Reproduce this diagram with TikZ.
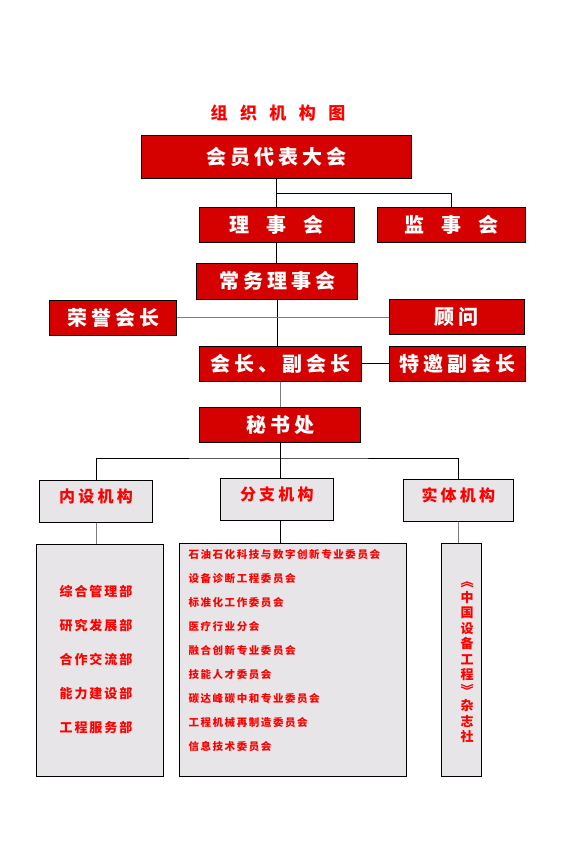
\documentclass[tikz,border=0pt]{standalone}
\usepackage{fontspec}
\usepackage{tikz}
\usetikzlibrary{positioning}
\newfontfamily\cjkwide[LetterSpace=20]{Noto Sans CJK SC}
\newfontfamily\cjktight[LetterSpace=15]{Noto Sans CJK SC}
\newfontfamily\cjktitle[LetterSpace=73]{Noto Sans CJK SC}
\newfontfamily\cjk{Noto Sans CJK SC}
\definecolor{boxred}{RGB}{213,0,0}
\definecolor{boxgray}{RGB}{231,229,231}
\definecolor{txtred}{RGB}{255,0,0}
\definecolor{linegray}{RGB}{125,125,125}
\def\gap{\hspace{17pt}}

\begin{document}
\begin{tikzpicture}[
    x=1pt, y=-1pt,
    redbox/.style={draw=black, fill=boxred, text=white, line width=0.9pt, inner sep=0pt,
        font=\cjkwide\bfseries\fontsize{20}{20}\selectfont},
    graybox/.style={draw=black, fill=boxgray, text=txtred, line width=0.9pt, inner sep=0pt,
        text height=11pt, text depth=9pt,
        font=\cjkwide\bfseries\fontsize{16}{16}\selectfont},
    listbox/.style={draw=black, fill=boxgray, line width=0.9pt, inner sep=0pt},
    link/.style={line width=0.9pt},
    glink/.style={line width=0.9pt, draw=linegray}
]
\useasboundingbox (0,0) rectangle (565,845);

% title
\node[text=txtred, font=\cjktitle\bfseries\fontsize{17}{17}\selectfont] (title) at (278,113) {组织机构图};

% top levels
\node[redbox, minimum width=270pt, minimum height=43pt] (hy) at (276,156.5) {会员代表大会};
\node[redbox, minimum width=155pt, minimum height=35pt] (lsh) at (276.8,224.8) {理\gap 事\gap 会};
\node[redbox, minimum width=148pt, minimum height=35pt] (jsh) at (451,224.5) {监\gap 事\gap 会};
\node[redbox, minimum width=160.6pt, minimum height=36pt] (cw) at (277,281.3) {常务理事会};
\node[redbox, minimum width=127.4pt, minimum height=35pt] (ry) at (113,317.8) {荣誉会长};
\node[redbox, minimum width=135pt, minimum height=35pt] (gw) at (456.8,316.8) {顾问};
\node[redbox, minimum width=162pt, minimum height=35pt] (hz) at (280.3,363.8) {会长、副会长};
\node[redbox, minimum width=136pt, minimum height=35pt] (ty) at (457.3,363.8) {特邀副会长};
\node[redbox, minimum width=161.4pt, minimum height=35pt] (ms) at (280,424.8) {秘书处};

% second level
\node[graybox, minimum width=113.4pt, minimum height=42pt] (ns) at (96,501.3) {内设机构};
\node[graybox, minimum width=113pt, minimum height=42pt] (fz) at (276.8,499.3) {分支机构};
\node[graybox, minimum width=110pt, minimum height=42pt] (st) at (458.3,500.3) {实体机构};

% lists
\node[listbox, minimum width=126.6pt, minimum height=231.7pt] (nsl) at (100,660.2) {};
\node[listbox, minimum width=227.4pt, minimum height=232.7pt] (fzl) at (293,659.7) {};
\node[listbox, minimum width=40pt, minimum height=232.7pt] (stl) at (461.7,659.7) {};

\node[text=txtred, align=center, inner sep=0pt,
    font=\cjktight\bfseries\fontsize{13}{34}\selectfont] (nstext) at (96,659.4)
    {综合管理部\\研究发展部\\合作交流部\\能力建设部\\工程服务部};
\node[text=txtred, align=left, anchor=west, inner sep=0pt,
    font=\cjktight\bfseries\fontsize{10.5}{24}\selectfont] (fztext) at (188.3,651)
    {石油石化科技与数字创新专业委员会\\设备诊断工程委员会\\标准化工作委员会\\医疗行业分会\\融合创新专业委员会\\技能人才委员会\\碳达峰碳中和专业委员会\\工程机械再制造委员会\\信息技术委员会};
\node[text=txtred, align=center, inner sep=0pt,
    font=\cjk\bfseries\fontsize{13}{15.5}\selectfont] (sttext) at (467,662.5)
    {︽\\中\\国\\设\\备\\工\\程\\︾\\杂\\志\\社};

% connectors
\coordinate (b1) at (276.5,193);
\coordinate (bus) at (280,458);
\draw[link] (hy.south) -- (hy.south |- lsh.north);
\draw[link] (b1) -| (jsh.north);
\draw[link] (lsh.south) -- (lsh.south |- cw.north);
\draw[link] (cw.south) -- (cw.south |- hz.north);
\draw[glink] (ry.east) -- (ry.east -| gw.west);
\draw[link] (hz.east) -- (ty.west);
\draw[glink] (hz.south) -- (hz.south |- ms.north);
\draw[link] (ms.south) -- (ms.south |- fz.north);
\draw[link] (ns.north) |- (bus) -| (st.north);
\draw[glink] (ns.south) -- (ns.south |- nsl.north);
\draw[link] (ms.south |- fz.south) -- (ms.south |- fzl.north);
\draw[glink] (st.south) -- (st.south |- stl.north);
\end{tikzpicture}
\end{document}
